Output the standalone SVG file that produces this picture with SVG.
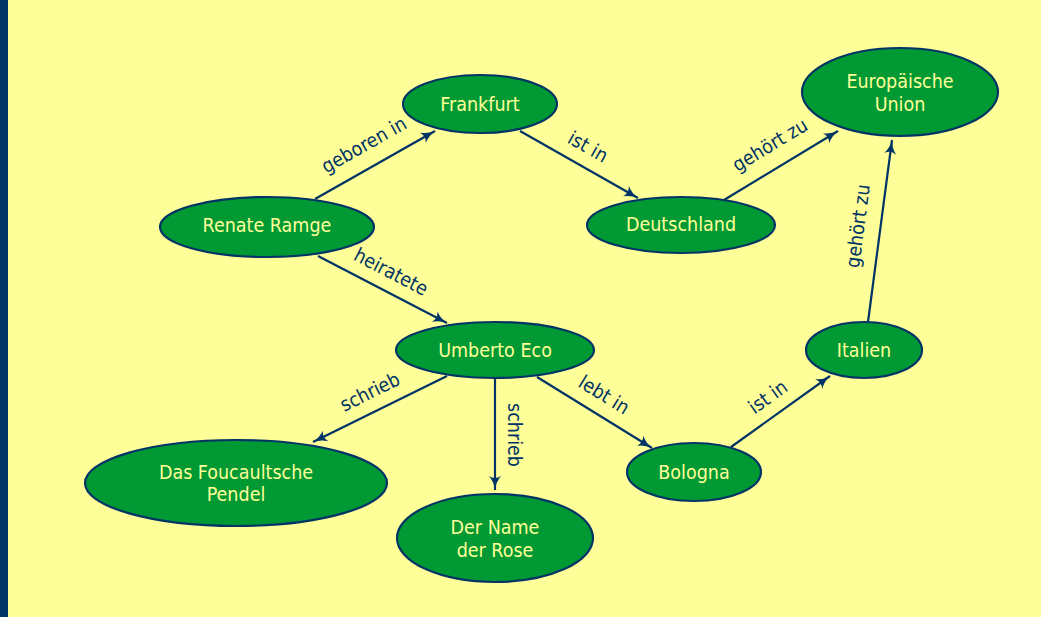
<svg xmlns="http://www.w3.org/2000/svg" width="1041" height="617" viewBox="0 0 1041 617">
<style>
.node ellipse{fill:#009933;stroke:#003366;stroke-width:2.2}
.node text{fill:#FFFF99;font-family:"DejaVu Sans Condensed","DejaVu Sans",sans-serif;font-stretch:condensed;font-size:19.5px;text-anchor:middle;dominant-baseline:central}
.edges line{stroke:#003366;stroke-width:2.2;marker-end:url(#arr)}
.lbl{fill:#003366;font-family:"DejaVu Sans Condensed","DejaVu Sans",sans-serif;font-stretch:condensed;font-size:19.5px;text-anchor:middle;dominant-baseline:central}
</style>
<defs>
<marker id="arr" viewBox="0 0 14 12" refX="14" refY="6" markerWidth="14" markerHeight="12" markerUnits="userSpaceOnUse" orient="auto">
<path d="M0,0 Q6,5 14,6 Q6,7 0,12 Q4,6 0,0 z" fill="#003366"/>
</marker>
</defs>
<rect x="0" y="0" width="1041" height="617" fill="#FFFF99"/>
<rect x="0" y="0" width="8" height="617" fill="#003366"/>
<g class="edges">
<line x1="315" y1="199" x2="435" y2="131"/>
<line x1="318" y1="256" x2="447" y2="323"/>
<line x1="520" y1="131" x2="638" y2="198"/>
<line x1="724" y1="200" x2="838" y2="131"/>
<line x1="868" y1="322" x2="892" y2="140"/>
<line x1="447" y1="376" x2="313" y2="442"/>
<line x1="495" y1="378" x2="495" y2="490"/>
<line x1="537" y1="377" x2="652" y2="448"/>
<line x1="731" y1="447" x2="830" y2="376"/>
<text class="lbl" transform="translate(364,145) rotate(-29.5)">geboren in</text>
<text class="lbl" transform="translate(391,272) rotate(27.4)">heiratete</text>
<text class="lbl" transform="translate(588,147) rotate(29.6)">ist in</text>
<text class="lbl" transform="translate(770,145) rotate(-31.2)">gehört zu</text>
<text class="lbl" transform="translate(858,226) rotate(-82.5)">gehört zu</text>
<text class="lbl" transform="translate(370,392) rotate(-26.2)">schrieb</text>
<text class="lbl" transform="translate(514,435) rotate(90)">schrieb</text>
<text class="lbl" transform="translate(604,395) rotate(31.7)">lebt in</text>
<text class="lbl" transform="translate(768,397) rotate(-35.6)">ist in</text>
</g>
<g id="renate" class="node"><ellipse cx="267" cy="227" rx="107" ry="30"/><text x="267" y="225">Renate Ramge</text></g>
<g id="frankfurt" class="node"><ellipse cx="480" cy="104" rx="77" ry="29"/><text x="480" y="104">Frankfurt</text></g>
<g id="deutschland" class="node"><ellipse cx="681" cy="225" rx="94" ry="28"/><text x="681" y="224">Deutschland</text></g>
<g id="eu" class="node"><ellipse cx="900" cy="92" rx="98" ry="44"/><text x="900" y="81">Europäische</text><text x="900" y="104">Union</text></g>
<g id="italien" class="node"><ellipse cx="864" cy="350" rx="58" ry="28"/><text x="864" y="350">Italien</text></g>
<g id="umberto" class="node"><ellipse cx="495" cy="350" rx="99" ry="28"/><text x="495" y="350">Umberto Eco</text></g>
<g id="foucault" class="node"><ellipse cx="236" cy="483" rx="151" ry="43"/><text x="236" y="472">Das Foucaultsche</text><text x="236" y="494">Pendel</text></g>
<g id="rose" class="node"><ellipse cx="495" cy="538" rx="98" ry="44"/><text x="495" y="527">Der Name</text><text x="495" y="550">der Rose</text></g>
<g id="bologna" class="node"><ellipse cx="694" cy="472" rx="67" ry="29"/><text x="694" y="472">Bologna</text></g>
</svg>
